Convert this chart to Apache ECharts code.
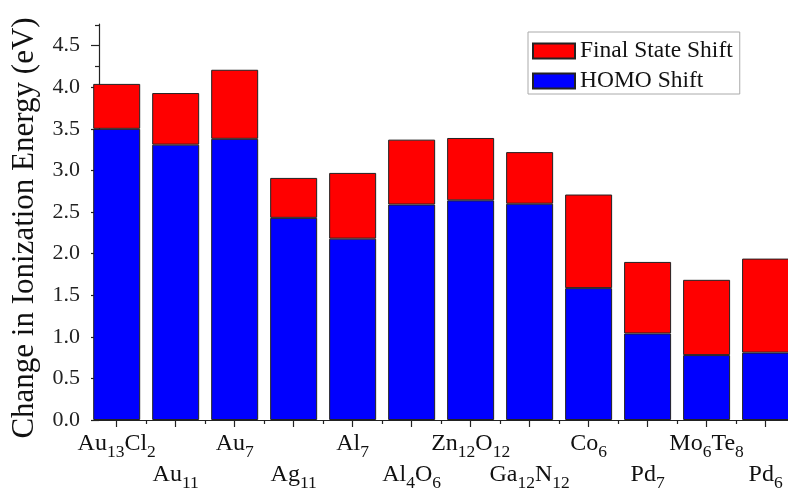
<!DOCTYPE html>
<html>
<head>
<meta charset="utf-8">
<script src="https://cdn.jsdelivr.net/npm/echarts@6/dist/echarts.min.js"></script>
<style>
  html, body { margin: 0; padding: 0; background: #fff; }
  #chart { width: 788px; height: 492px; }
</style>
</head>
<body>
<div id="chart"></div>
<script>
// cluster names (digits become subscripts)
var clusters = ['Au13Cl2', 'Au11', 'Au7', 'Ag11', 'Al7', 'Al4O6',
                'Zn12O12', 'Ga12N12', 'Co6', 'Pd7', 'Mo6Te8', 'Pd6'];
var homoShift = [3.50, 3.31, 3.38, 2.43, 2.18, 2.59, 2.64, 2.60, 1.585, 1.04, 0.78, 0.81];
var finalShift = [0.54, 0.62, 0.83, 0.48, 0.79, 0.78, 0.75, 0.62, 1.125, 0.86, 0.905, 1.13];
var yTicks = [0, 0.5, 1.0, 1.5, 2.0, 2.5, 3.0, 3.5, 4.0, 4.5];

var FONT = "'Liberation Serif', 'Times New Roman', serif";

// bar positions on the x axis: 1..12
var positions = clusters.map(function (c, i) { return i + 1; });
var upperRow = positions.filter(function (p, i) { return i % 2 === 0; });
var lowerRow = positions.filter(function (p, i) { return i % 2 === 1; });
var halfTicks = positions.slice(0, -1).map(function (p) { return p + 0.5; });

function formula(name) {
    return name.replace(/([A-Za-z]+)|(\d+)/g, function (m, letters, digits) {
        return letters ? '{n|' + letters + '}' : '{s|' + digits + '}';
    });
}

function labelFor(value) {
    var idx = Math.round(value) - 1;
    return clusters[idx] ? formula(clusters[idx]) : '';
}

var rich = {
    n: { fontFamily: FONT, fontSize: 24, lineHeight: 24, color: '#111', verticalAlign: 'top' },
    s: { fontFamily: FONT, fontSize: 17.5, lineHeight: 17, color: '#111', verticalAlign: 'top', padding: [11, 0, 0, 0] }
};

var chart = echarts.init(document.getElementById('chart'), null, { renderer: 'canvas' });

var option = {
    animation: false,
    textStyle: { fontFamily: FONT },
    grid: { left: 99, right: 0, top: 24, bottom: 68 },
    legend: {
        orient: 'vertical',
        left: 528,
        top: 32,
        data: ['Final State Shift', 'HOMO Shift'],
        icon: 'rect',
        itemWidth: 42,
        itemHeight: 15,
        itemGap: 6,
        padding: [7, 7, 1, 4],
        backgroundColor: '#fff',
        borderColor: '#aaa',
        borderWidth: 1,
        borderRadius: 0,
        textStyle: { fontFamily: FONT, fontSize: 23.5, color: '#111' }
    },
    xAxis: [
        {
            type: 'value',
            min: 0.7,
            max: 12.38,
            axisLine: { show: true, lineStyle: { color: '#222', width: 1.2 } },
            axisTick: { show: true, inside: false, length: 7, customValues: positions,
                        lineStyle: { color: '#222', width: 1.2 } },
            axisLabel: { customValues: upperRow, margin: 12, formatter: labelFor, rich: rich },
            splitLine: { show: false }
        },
        {
            type: 'value',
            min: 0.7,
            max: 12.38,
            position: 'bottom',
            axisLine: { show: false },
            axisTick: { show: true, inside: false, length: 4, customValues: halfTicks,
                        lineStyle: { color: '#222', width: 1.2 } },
            axisLabel: { customValues: lowerRow, margin: 43, formatter: labelFor, rich: rich },
            splitLine: { show: false }
        }
    ],
    yAxis: {
        type: 'value',
        min: 0,
        max: 4.76,
        interval: 0.5,
        name: 'Change in Ionization Energy (eV)',
        nameLocation: 'middle',
        nameGap: 59,
        nameRotate: 90,
        nameTextStyle: { fontFamily: FONT, fontSize: 31, color: '#111', padding: [0, 12, 0, 0] },
        axisLine: { show: true, lineStyle: { color: '#222', width: 1.2 } },
        axisTick: { show: true, inside: false, length: 8, customValues: yTicks,
                    lineStyle: { color: '#222', width: 1.2 } },
        minorTick: { show: true, splitNumber: 2, length: 4, lineStyle: { color: '#222', width: 1.2 } },
        axisLabel: {
            customValues: yTicks,
            margin: 19,
            fontFamily: FONT,
            fontSize: 22,
            color: '#222',
            formatter: function (v) { return v.toFixed(1); }
        },
        splitLine: { show: false },
        minorSplitLine: { show: false }
    },
    series: [
        {
            name: 'HOMO Shift',
            type: 'bar',
            stack: 'ie',
            barWidth: 47,
            // value first so the stack runs along y
            encode: { x: 1, y: 0 },
            data: positions.map(function (p, i) { return [homoShift[i], p]; }),
            itemStyle: { color: '#0000ff', borderColor: '#222', borderWidth: 1 }
        },
        {
            name: 'Final State Shift',
            type: 'bar',
            stack: 'ie',
            barWidth: 47,
            encode: { x: 1, y: 0 },
            data: positions.map(function (p, i) { return [finalShift[i], p]; }),
            itemStyle: { color: '#ff0000', borderColor: '#222', borderWidth: 1 }
        }
    ]
};

chart.setOption(option);
</script>
</body>
</html>
